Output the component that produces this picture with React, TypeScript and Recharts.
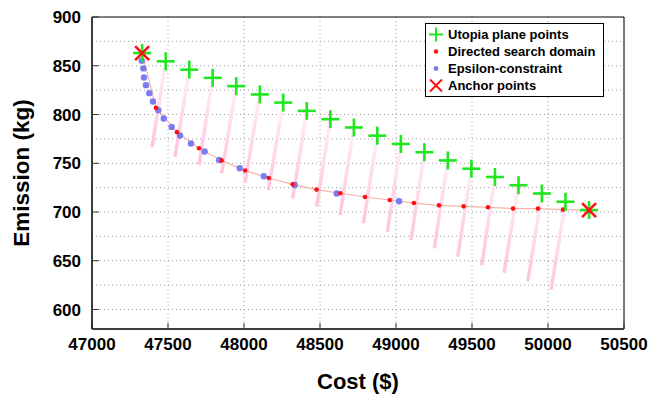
import React from "react";
import {
  ScatterChart,
  Scatter,
  XAxis,
  YAxis,
  CartesianGrid,
  ReferenceLine,
  ReferenceArea,
  Label,
} from "recharts";

// utopia plane points (green +), anchors included at both ends
const utopiaCost = [
  47330, 47485, 47640, 47794, 47949, 48104, 48258, 48413, 48568, 48723,
  48877, 49032, 49187, 49341, 49496, 49651, 49806, 49960, 50115, 50270,
];
const utopiaEmission = [
  863, 854.5, 846, 837.6, 829.1, 820.6, 812.2, 803.7, 795.2, 786.7,
  778.3, 769.8, 761.3, 752.9, 744.4, 735.9, 727.5, 719, 710.5, 702,
];

// directed search domain (red dots)
const dsdCost = [
  47421, 47559, 47704, 47853, 48007, 48163, 48320, 48477, 48634, 48796,
  48959, 49118, 49283, 49445, 49605, 49770, 49934, 50099,
];
const dsdEmission = [
  806.8, 781.9, 765.4, 752.8, 742.5, 734.9, 728.4, 723, 719.2, 715.4,
  712.3, 709.2, 706.8, 705.8, 704.8, 703.5, 703.5, 702.4,
];

// epsilon-constraint (blue dots)
const epsCost = [
  47327, 47338, 47342, 47355, 47377, 47401, 47436, 47472, 47524, 47579,
  47651, 47741, 47837, 47972, 48130, 48334, 48610, 49020,
];
const epsEmission = [
  855.1, 847.3, 838, 830.1, 821.9, 813.4, 804.4, 795.9, 787.3, 778.4,
  770.2, 762, 753.3, 744.9, 736.6, 727.7, 718.9, 711,
];

// anchor points (red x)
const anchorCost = [47330, 50270];
const anchorEmission = [863, 702];

// lower ends of the search rays drawn from utopia points 1..18
const rayEndCost = [
  47395, 47546, 47704, 47853, 48007, 48160, 48320, 48478, 48632, 48785,
  48943, 49099, 49252, 49406, 49564, 49711, 49867, 50020,
];
const rayEndEmission = [
  766.4, 756.5, 748, 739.7, 730.2, 722.3, 713.7, 705.5, 696.9, 688.4,
  679.8, 671.2, 662.7, 654.1, 645.5, 637.7, 629.1, 620.5,
];

const xTicks = [47000, 47500, 48000, 48500, 49000, 49500, 50000, 50500];
const yTicks = [600, 650, 700, 750, 800, 850, 900];
const yGrid = [600, 625, 650, 675, 700, 725, 750, 775, 800, 825, 850, 875];

const legendNames = [
  "Utopia plane points",
  "Directed search domain",
  "Epsilon-constraint",
  "Anchor points",
];

const FONT = "'Liberation Sans', Arial, sans-serif";
const GREEN = "#1fe61f";
const RED = "#ff1010";
const BLUE = "#7b7bf3";

const toPoints = (xs: number[], ys: number[]) =>
  xs.map((c, i) => ({ cost: c, emission: ys[i] }));

const utopiaData = toPoints(utopiaCost, utopiaEmission);
const dsdData = toPoints(dsdCost, dsdEmission);
const epsData = toPoints(epsCost, epsEmission);
const anchorData = toPoints(anchorCost, anchorEmission);
const frontData = [anchorData[0], ...dsdData, anchorData[1]];

const PlusShape = ({ cx, cy }: any) => (
  <g stroke={GREEN} strokeWidth={2.6}>
    <line x1={cx - 9} y1={cy} x2={cx + 9} y2={cy} />
    <line x1={cx} y1={cy - 9} x2={cx} y2={cy + 9} />
  </g>
);

const CrossShape = ({ cx, cy }: any) => (
  <g stroke={RED} strokeWidth={2.6}>
    <line x1={cx - 7} y1={cy - 7} x2={cx + 7} y2={cy + 7} />
    <line x1={cx - 7} y1={cy + 7} x2={cx + 7} y2={cy - 7} />
  </g>
);

const RedDot = ({ cx, cy }: any) => <circle cx={cx} cy={cy} r={2.3} fill={RED} />;
const BlueDot = ({ cx, cy }: any) => <circle cx={cx} cy={cy} r={3.2} fill={BLUE} />;
const NoDot = () => <g />;

const legendMarker = (i: number) => {
  if (i === 0)
    return (
      <g stroke={GREEN} strokeWidth={2}>
        <line x1={3} y1={8.5} x2={17} y2={8.5} />
        <line x1={10} y1={1.5} x2={10} y2={15.5} />
      </g>
    );
  if (i === 1) return <circle cx={10} cy={8.5} r={2.2} fill={RED} />;
  if (i === 2) return <circle cx={10} cy={8.5} r={2.4} fill={BLUE} />;
  return (
    <g stroke={RED} strokeWidth={2}>
      <line x1={4} y1={2.5} x2={16} y2={14.5} />
      <line x1={4} y1={14.5} x2={16} y2={2.5} />
    </g>
  );
};

const ChartLegend = () => (
  <div
    style={{
      position: "absolute",
      left: 425,
      top: 23,
      border: "1px solid #000",
      background: "#fff",
      padding: "2px 8px 2px 0",
      fontWeight: "bold",
      fontSize: 13,
      fontFamily: FONT,
    }}
  >
    {legendNames.map((name, i) => (
      <div key={name} style={{ display: "flex", alignItems: "center", height: 17 }}>
        <svg width={22} height={17}>
          {legendMarker(i)}
        </svg>
        <span>{name}</span>
      </div>
    ))}
  </div>
);

export default function App() {
  return (
    <div
      style={{
        position: "absolute",
        left: 0,
        top: 0,
        width: 667,
        height: 395,
        fontFamily: FONT,
      }}
    >
      {/* gradient for the search rays, pale near the utopia plane */}
      <svg width={0} height={0} style={{ position: "absolute" }}>
        <defs>
          <linearGradient id="rayFade" x1="0" y1="0" x2="0" y2="1">
            <stop offset="0%" stopColor="#ffeef6" />
            <stop offset="100%" stopColor="#ffc4e2" />
          </linearGradient>
        </defs>
      </svg>
      <ScatterChart
        width={667}
        height={395}
        margin={{ top: 17, right: 43, left: 0, bottom: 0 }}
      >
        <CartesianGrid
          stroke="#9a9a9a"
          strokeDasharray="1 3"
          verticalValues={xTicks}
          horizontalValues={yGrid}
        />
        <XAxis
          type="number"
          dataKey="cost"
          domain={[47000, 50500]}
          ticks={xTicks}
          allowDataOverflow
          height={66}
          axisLine={{ stroke: "#000" }}
          tickLine={{ stroke: "#333" }}
          tickSize={-6}
          tickMargin={15}
          tick={{ fill: "#000", fontSize: 17, fontWeight: "bold" }}
        >
          <Label
            content={({ viewBox }: any) => (
              <text
                x={viewBox.x + viewBox.width / 2}
                y={viewBox.y + 60}
                textAnchor="middle"
                fontSize={22}
                fontWeight="bold"
                fill="#000"
              >
                Cost ($)
              </text>
            )}
          />
        </XAxis>
        <YAxis
          type="number"
          dataKey="emission"
          domain={[580, 900]}
          ticks={yTicks}
          allowDataOverflow
          width={92}
          axisLine={{ stroke: "#000" }}
          tickLine={{ stroke: "#333" }}
          tickSize={-7}
          tickMargin={18}
          tick={{ fill: "#000", fontSize: 17, fontWeight: "bold" }}
        >
          <Label
            content={({ viewBox }: any) => {
              const cx = 29;
              const cy = viewBox.y + viewBox.height / 2;
              return (
                <text
                  x={cx}
                  y={cy}
                  transform={`rotate(-90 ${cx} ${cy})`}
                  textAnchor="middle"
                  fontSize={22.5}
                  fontWeight="bold"
                  fill="#000"
                >
                  Emission (kg)
                </text>
              );
            }}
          />
        </YAxis>
        <ReferenceArea
          x1={47000}
          x2={50500}
          y1={580}
          y2={900}
          fill="none"
          fillOpacity={0}
          stroke="#000"
          strokeWidth={1}
        />
        {rayEndCost.map((c, i) => (
          <ReferenceLine
            key={`ray-${i}`}
            segment={[
              { x: utopiaCost[i + 1], y: utopiaEmission[i + 1] },
              { x: c, y: rayEndEmission[i] },
            ]}
            stroke="url(#rayFade)"
            strokeWidth={3.5}
          />
        ))}
        <Scatter
          name="front"
          data={frontData}
          line={{ stroke: "#f7b3aa", strokeWidth: 1.2 }}
          shape={<NoDot />}
          isAnimationActive={false}
          legendType="none"
        />
        <Scatter
          name="Epsilon-constraint"
          data={epsData}
          shape={<BlueDot />}
          isAnimationActive={false}
        />
        <Scatter
          name="Directed search domain"
          data={dsdData}
          shape={<RedDot />}
          isAnimationActive={false}
        />
        <Scatter
          name="Utopia plane points"
          data={utopiaData}
          shape={<PlusShape />}
          isAnimationActive={false}
        />
        <Scatter
          name="Anchor points"
          data={anchorData}
          shape={<CrossShape />}
          isAnimationActive={false}
        />
      </ScatterChart>
      <ChartLegend />
    </div>
  );
}
